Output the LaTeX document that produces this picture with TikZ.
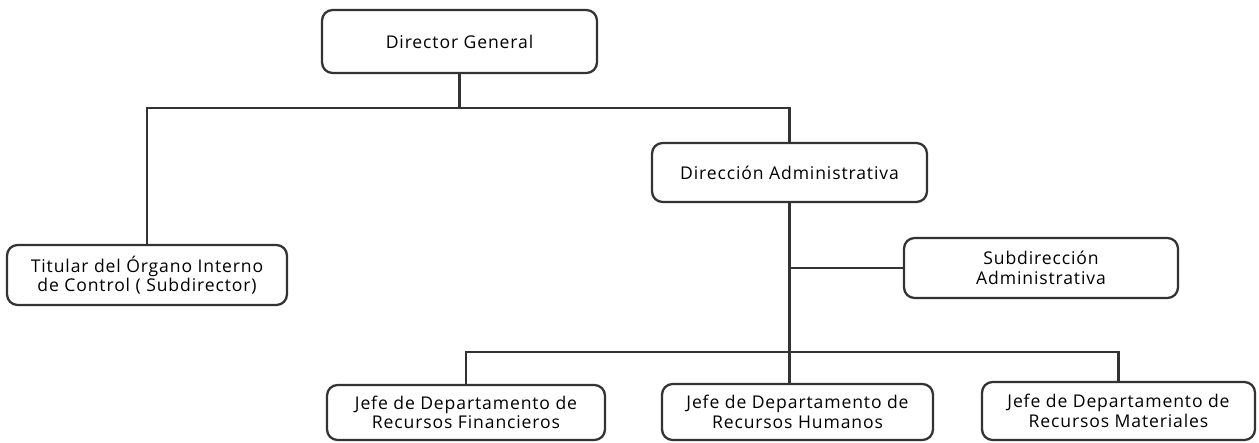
\documentclass[tikz,border=0pt]{standalone}
\usepackage{fontspec}
\setmainfont{Open Sans}[LetterSpace=5]
\usetikzlibrary{positioning}

\begin{document}
\begin{tikzpicture}[x=0.02cm, y=-0.02cm, every node/.style={font=\fontsize{10}{11}\selectfont},
    unit/.style={draw=black!80, line width=1.3pt, rounded corners=6pt, align=center, inner sep=2pt},
    link/.style={draw=black!80, line width=1.3pt}]
    % Frame
    \useasboundingbox (0,0) rectangle (1259,443);
    % Boxes
    \node[unit, minimum width=5.5cm, minimum height=1.26cm] (dg) at (459.5,41.5) {Director General};
    \node[unit, minimum width=5.6cm, minimum height=1.2cm] (tit) at (147,275) {Titular del Órgano Interno\\de Control ( Subdirector)};
    \node[unit, minimum width=5.5cm, minimum height=1.18cm] (da) at (789.5,172.5) {Dirección Administrativa};
    \node[unit, minimum width=5.48cm, minimum height=1.2cm] (sub) at (1041,268) {Subdirección\\Administrativa};
    \node[unit, minimum width=5.56cm, minimum height=1.1cm] (fin) at (466,412.5) {Jefe de Departamento de\\Recursos Financieros};
    \node[unit, minimum width=5.42cm, minimum height=1.12cm] (hum) at (797.5,412) {Jefe de Departamento de\\Recursos Humanos};
    \node[unit, minimum width=5.46cm, minimum height=1.16cm] (mat) at (1118.5,411) {Jefe de Departamento de\\Recursos Materiales};
    % Buses
    \coordinate (topbus) at (0,108);
    \coordinate (lowbus) at (0,352);
    % Connectors
    \draw[link] (dg.south) -- (dg.south |- topbus);
    \draw[link] (tit.north) |- (da.north |- topbus) -- (da.north);
    \draw[link] (da.south) -- (da.south |- hum.north);
    \draw[link] (sub.west) -- (sub.west -| da.south);
    \draw[link] (fin.north) |- (mat.north |- lowbus) -- (mat.north);
\end{tikzpicture}
\end{document}
